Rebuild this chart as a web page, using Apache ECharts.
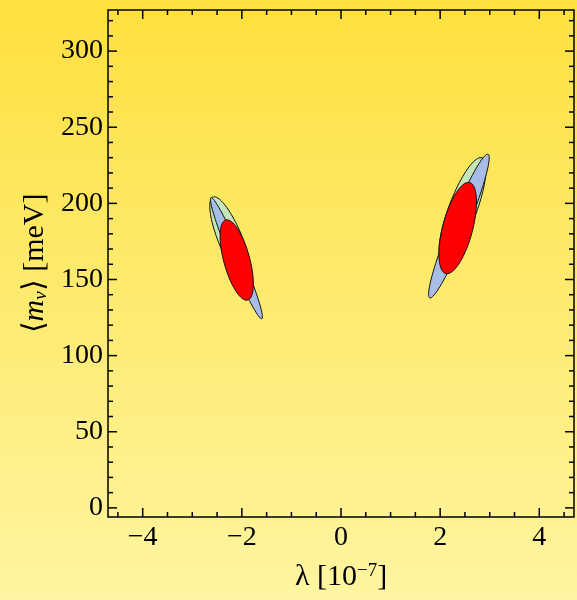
<!DOCTYPE html>
<html>
<head>
<meta charset="utf-8">
<script src="https://cdn.jsdelivr.net/npm/echarts@6/dist/echarts.min.js"></script>
<style>
  html, body { margin: 0; padding: 0; }
  #main { width: 577px; height: 600px; }
</style>
</head>
<body>
<div id="main"></div>
<script>
// allowed regions, each one as [cx, cy, ax, ay, bx, by]
// centre, half major axis and half minor axis (data units)
var greenRegions = [
  [-2.229, 176.0, -0.353, 28.2, 0.224, 2.97],
  [2.451, 195.7, 0.393, 34.2, 0.264, -3.22]
];
var blueRegions = [
  [-2.11, 164.0, -0.513, 39.8, 0.111, 1.53],
  [2.378, 185.1, 0.588, 47.2, 0.168, -2.23]
];
var redRegions = [
  [-2.103, 162.8, -0.221, 26.3, 0.252, 2.27],
  [2.354, 183.8, 0.241, 29.9, 0.292, -2.52]
];
var xRange = [-4.7, 4.7];
var yRange = [-6, 327];

// frame ticks
var xMajorTicks = [-4, -2, 0, 2, 4];
var xMinorTicks = [-4.5, -3.5, -3, -2.5, -1.5, -1, -0.5, 0.5, 1, 1.5, 2.5, 3, 3.5, 4.5];
var yMajorTicks = [0, 50, 100, 150, 200, 250, 300];
var yMinorTicks = [10, 20, 30, 40, 60, 70, 80, 90, 110, 120, 130, 140, 160, 170, 180, 190,
                   210, 220, 230, 240, 260, 270, 280, 290, 310, 320];

var FONT = 'Liberation Serif, Times New Roman, serif';

function minusFmt(v) {
  return v < 0 ? '\u2212' + Math.abs(v) : String(v);
}

function renderEllipse(params, api) {
  var cx = api.value(0), cy = api.value(1);
  var ax = api.value(2), ay = api.value(3);
  var bx = api.value(4), by = api.value(5);
  var pts = [];
  for (var k = 0; k < 90; k++) {
    var t = 2 * Math.PI * k / 90;
    var c = Math.cos(t), s = Math.sin(t);
    pts.push(api.coord([cx + ax * c + bx * s, cy + ay * c + by * s]));
  }
  return {
    type: 'polygon',
    shape: { points: pts },
    style: { fill: api.visual('color'), stroke: '#111', lineWidth: 1 }
  };
}

function ellipseSeries(data, color) {
  return {
    type: 'custom',
    coordinateSystem: 'cartesian2d',
    data: data,
    dimensions: ['cx', 'cy', 'ax', 'ay', 'bx', 'by'],
    encode: { x: 0, y: 1 },
    itemStyle: { color: color },
    renderItem: renderEllipse,
    silent: true,
    clip: true
  };
}

var chart = echarts.init(document.getElementById('main'), null, { renderer: 'canvas' });

chart.setOption({
  animation: false,
  backgroundColor: {
    type: 'linear', x: 0, y: 0, x2: 0, y2: 1,
    colorStops: [
      { offset: 0, color: '#fee03e' },
      { offset: 1, color: '#fff5a2' }
    ]
  },
  grid: {
    left: 108, right: 3, top: 10, bottom: 83,
    show: true, borderColor: '#000', borderWidth: 1.5, backgroundColor: 'transparent'
  },
  xAxis: {
    type: 'value', position: 'bottom',
    min: xRange[0], max: xRange[1], splitNumber: 5,
    axisLine: { show: false, onZero: false },
    axisTick: { show: false },
    splitLine: { show: false },
    axisLabel: {
      show: true, margin: 7, color: '#000', fontSize: 28, fontFamily: FONT,
      showMinLabel: false, showMaxLabel: false, formatter: minusFmt
    },
    name: '\u03bb [10{sup|\u22127}]',
    nameLocation: 'middle',
    nameGap: 45,
    nameTextStyle: {
      color: '#000', fontSize: 30, fontFamily: FONT,
      rich: {
        sup: { fontSize: 19, fontFamily: FONT, color: '#000', verticalAlign: 'top', lineHeight: 19 }
      }
    }
  },
  yAxis: {
    type: 'value', position: 'left',
    min: yRange[0], max: yRange[1], splitNumber: 7,
    axisLine: { show: false, onZero: false },
    axisTick: { show: false },
    splitLine: { show: false },
    axisLabel: {
      show: true, margin: 5, color: '#000', fontSize: 28, fontFamily: FONT,
      showMinLabel: false, showMaxLabel: false
    },
    name: '\u27e8{it|m}{sub|\u03bd}\u27e9 [meV]',
    nameLocation: 'middle',
    nameRotate: 90,
    nameGap: 33,
    nameTextStyle: {
      color: '#000', fontSize: 30, fontFamily: FONT,
      rich: {
        it: { fontSize: 30, fontFamily: FONT, fontStyle: 'italic', color: '#000' },
        sub: { fontSize: 19, fontFamily: FONT, fontStyle: 'italic', color: '#000', verticalAlign: 'bottom', lineHeight: 19 }
      }
    }
  },
  series: [
    ellipseSeries(greenRegions, '#c6e6b8'),
    ellipseSeries(blueRegions, '#a7bde8'),
    ellipseSeries(redRegions, '#ff0000')
  ]
});

// frame ticks as graphic lines, placed through the axes' own conversion
function tickLines(values, dim, len) {
  var out = [];
  values.forEach(function (v) {
    var a, b;
    if (dim === 'x') {
      a = chart.convertToPixel({ gridIndex: 0 }, [v, yRange[0]]);
      b = chart.convertToPixel({ gridIndex: 0 }, [v, yRange[1]]);
      out.push({ type: 'line', z: 100, silent: true,
        shape: { x1: a[0], y1: a[1], x2: a[0], y2: a[1] - len },
        style: { stroke: '#000', lineWidth: 1.5 } });
      out.push({ type: 'line', z: 100, silent: true,
        shape: { x1: b[0], y1: b[1], x2: b[0], y2: b[1] + len },
        style: { stroke: '#000', lineWidth: 1.5 } });
    } else {
      a = chart.convertToPixel({ gridIndex: 0 }, [xRange[0], v]);
      b = chart.convertToPixel({ gridIndex: 0 }, [xRange[1], v]);
      out.push({ type: 'line', z: 100, silent: true,
        shape: { x1: a[0], y1: a[1], x2: a[0] + len, y2: a[1] },
        style: { stroke: '#000', lineWidth: 1.5 } });
      out.push({ type: 'line', z: 100, silent: true,
        shape: { x1: b[0], y1: b[1], x2: b[0] - len, y2: b[1] },
        style: { stroke: '#000', lineWidth: 1.5 } });
    }
  });
  return out;
}

chart.setOption({
  graphic: [].concat(
    tickLines(xMajorTicks, 'x', 9),
    tickLines(xMinorTicks, 'x', 5),
    tickLines(yMajorTicks, 'y', 9),
    tickLines(yMinorTicks, 'y', 5)
  )
});
</script>
</body>
</html>
